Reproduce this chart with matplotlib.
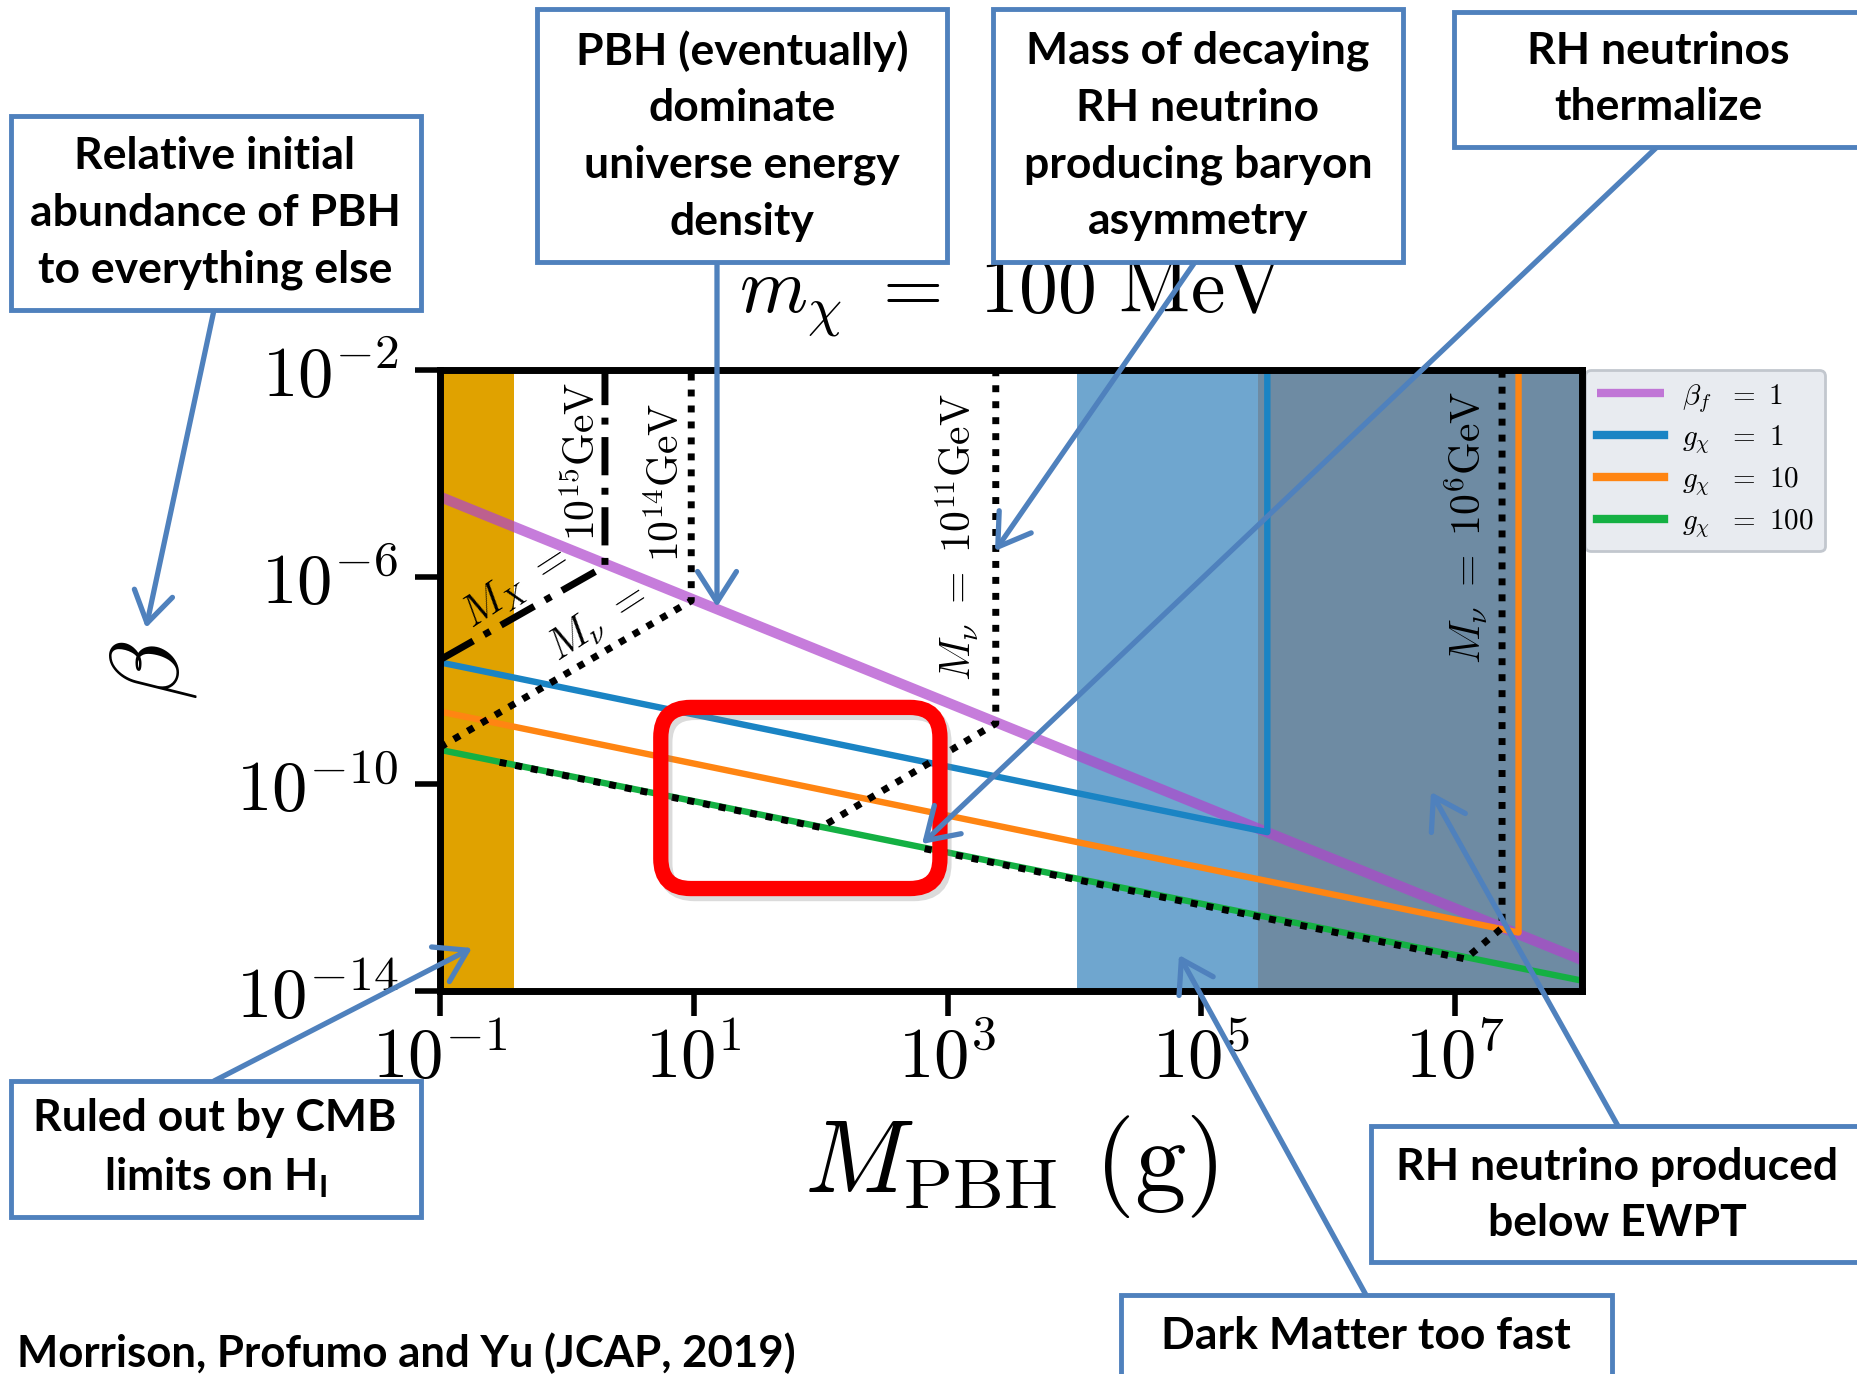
import numpy as np
import matplotlib
matplotlib.use('Agg')
import matplotlib.pyplot as plt
from matplotlib.patches import Rectangle, FancyBboxPatch, FancyArrowPatch
from matplotlib.transforms import IdentityTransform

plt.rcParams['mathtext.fontset'] = 'cm'
plt.rcParams['font.family'] = ['DejaVu Serif']
plt.rcParams['mathtext.bf'] = 'Lato:bold'

# ---------------- data (log10 values) ----------------
purple_logM = [-1, 8]
purple_logB = [-4.45, -13.4]
blue_logM = [-1, 5.52, 5.52]
blue_logB = [-7.65, -10.93, -2]
orange_logM = [-1, 7.5, 7.5]
orange_logB = [-8.6, -12.87, -2]
green_logM = [-1, 8]
green_logB = [-9.34, -13.8]

mx15_logM = [-1, 0.3, 0.3]
mx15_logB = [-7.6, -5.79, -2]
mnu14_logM = [-1, 0.98, 0.98]
mnu14_logB = [-9.29, -6.46, -2]
mnu11_logM = [-0.53, 2.0, 3.38, 3.38]
mnu11_logB = [-9.58, -10.84, -8.83, -2]
mnu6_logM = [2.82, 7.08, 7.37, 7.37]
mnu6_logB = [-11.25, -13.38, -12.78, -2]

cmb_band = [-1, -0.42]
dm_band = [4.02, 5.45]
ewpt_band = [5.45, 8]

legend_labels = [r'$\beta_f\ \ =\ 1$', r'$g_\chi\ \ =\ 1$', r'$g_\chi\ \ =\ 10$', r'$g_\chi\ \ =\ 100$']
xtick_exp = [-1, 1, 3, 5, 7]
ytick_exp = [-2, -6, -10, -14]
xlim_exp = [-1, 8]
ylim_exp = [-14, -2]

red_box_logM = [0.74, 2.94]
red_box_logB = [-8.52, -12.02]

def p(v):
    return 10.0 ** np.asarray(v, dtype=float)

# ---------------- figure ----------------
W, H = 1858, 1374
fig = plt.figure(figsize=(W / 100, H / 100), dpi=100)
fig.patch.set_facecolor('white')
ax = fig.add_axes([440 / W, 1 - 991 / H, 1142 / W, 621 / H])
ax.set_xscale('log')
ax.set_yscale('log')
ax.set_xlim(p(xlim_exp[0]), p(xlim_exp[1]))
ax.set_ylim(p(ylim_exp[0]), p(ylim_exp[1]))

ax.axvspan(p(cmb_band[0]), p(cmb_band[1]), color='#E0A200', lw=0, zorder=1)
ax.axvspan(p(dm_band[0]), p(dm_band[1]), color='#6FA6CF', lw=0, zorder=1)
ax.axvspan(p(ewpt_band[0]), p(ewpt_band[1]), color='#6E8BA3', lw=0, zorder=1)

l1, = ax.plot(p(purple_logM), p(purple_logB), color='#AF44CC', alpha=0.7, lw=7.5,
              solid_capstyle='butt', zorder=3)
l2, = ax.plot(p(blue_logM), p(blue_logB), color='#1A84C4', lw=4.6, zorder=3)
l3, = ax.plot(p(orange_logM), p(orange_logB), color='#FF8512', lw=4.6, zorder=3)
l4, = ax.plot(p(green_logM), p(green_logB), color='#14B043', lw=4.6, zorder=3)

ax.plot(p(mx15_logM), p(mx15_logB), color='black', lw=5, ls=(0, (5.5, 1.8, 1, 1.8)), zorder=4)
for xs, ys in [(mnu14_logM, mnu14_logB), (mnu11_logM, mnu11_logB), (mnu6_logM, mnu6_logB)]:
    ax.plot(p(xs), p(ys), color='black', lw=5, ls=(0, (1, 1.3)), zorder=4)

# in-plot labels
lab_kw = dict(transform=ax.transAxes, fontsize=30, ha='center', va='center', zorder=5)
ax.text(0.125, 0.852, r'$10^{15}\mathrm{GeV}$', rotation=90, **lab_kw)
ax.text(0.199, 0.818, r'$10^{14}\mathrm{GeV}$', rotation=90, **lab_kw)
ax.text(0.066, 0.650, r'$M_X\ =$', rotation=33, **lab_kw)
ax.text(0.138, 0.593, r'$M_\nu\ =$', rotation=33, **lab_kw)
ax.text(0.453, 0.731, r'$M_\nu\ =\ 10^{11}\mathrm{GeV}$', rotation=90, **lab_kw)
ax.text(0.899, 0.747, r'$M_\nu\ =\ 10^{6}\mathrm{GeV}$', rotation=90, **lab_kw)

# axes style
for s in ax.spines.values():
    s.set_linewidth(5)
    s.set_color('black')
    s.set_zorder(6)
ax.set_xticks(p(xtick_exp))
ax.set_xticklabels([r'$10^{%d}$' % e for e in xtick_exp])
ax.set_yticks(p(ytick_exp))
ax.set_yticklabels([r'$10^{%d}$' % e for e in ytick_exp])
ax.minorticks_off()
ax.tick_params(axis='both', which='major', direction='out', length=18, width=4,
               labelsize=51)
ax.tick_params(axis='x', pad=6)
ax.tick_params(axis='y', pad=12)

ax.set_xlabel(r'$M_{\rm PBH}\ (\rm g)$', fontsize=74, va='center', ha='center')
ax.xaxis.set_label_coords(0.5, -0.283)
ax.set_ylabel(r'$\beta$', fontsize=70, va='center', ha='center')
ax.yaxis.set_label_coords(-0.252, 0.517)
ax.text(0.5, 1.115, r'$m_\chi\ =\ 100\ \mathrm{MeV}$', transform=ax.transAxes,
        fontsize=56, ha='center', va='center')

leg = ax.legend([l1, l2, l3, l4], legend_labels, loc='upper left',
                bbox_to_anchor=(1.003, 1.0), borderaxespad=0, fontsize=21,
                handlelength=2.3, handletextpad=0.6, labelspacing=0.3,
                borderpad=0.4, frameon=True, fancybox=True, framealpha=1)
leg.get_frame().set_facecolor('#E8EBF0')
leg.get_frame().set_edgecolor('#C2C7CE')
leg.get_frame().set_linewidth(2)
for i, h in enumerate(leg.get_lines()):
    h.set_linewidth(6)
    h.set_alpha(0.7 if i == 0 else 1)

# ---------------- red highlight box ----------------
fig.canvas.draw()
(x0, y0) = ax.transData.transform((p(red_box_logM[0]), p(red_box_logB[1])))
(x1, y1) = ax.transData.transform((p(red_box_logM[1]), p(red_box_logB[0])))
shadow = FancyBboxPatch((x0 + 4, y0 - 5), x1 - x0, y1 - y0,
                        boxstyle='round,pad=0,rounding_size=30',
                        fc='none', ec='#888888', lw=11, alpha=0.3,
                        transform=IdentityTransform(), zorder=8)
red = FancyBboxPatch((x0, y0), x1 - x0, y1 - y0,
                     boxstyle='round,pad=0,rounding_size=30',
                     fc='none', ec='#FF0000', lw=11,
                     transform=IdentityTransform(), zorder=9)
fig.add_artist(shadow)
fig.add_artist(red)

# ---------------- callouts ----------------
BLUE = '#4F81BD'
boxes = [
    ((11, 116, 421, 310), (215, 213), 'Relative initial\nabundance of PBH\nto everything else'),
    ((537, 9, 947, 262), (742, 136), 'PBH (eventually)\ndominate\nuniverse energy\ndensity'),
    ((993, 9, 1403, 262), (1198, 136), 'Mass of decaying\nRH neutrino\nproducing baryon\nasymmetry'),
    ((1454, 12, 1880, 147), (1658, 79), 'RH neutrinos\nthermalize'),
    ((11, 1081, 421, 1217), (215, 1149), 'Ruled out by CMB\nlimits on H$_\\mathbf{I}$'),
    ((1371, 1126, 1880, 1262), (1617, 1195), 'RH neutrino produced\nbelow EWPT'),
    ((1121, 1295, 1612, 1400), (1366, 1336), 'Dark Matter too fast'),
]
arrows = [
    ((214, 310), (146, 628)),
    ((717, 262), (717, 607)),
    ((1195, 262), (995, 551)),
    ((1657, 147), (922, 844)),
    ((214, 1081), (472, 948)),
    ((1618, 1126), (1431, 792)),
    ((1366, 1295), (1179, 955)),
]
for (a, b) in arrows:
    arr = FancyArrowPatch((a[0], H - a[1]), (b[0], H - b[1]),
                          arrowstyle='->,head_length=0.55,head_width=0.35',
                          mutation_scale=40, lw=3.8, color=BLUE,
                          shrinkA=0, shrinkB=0, transform=IdentityTransform(), zorder=10)
    fig.add_artist(arr)
for (bx, (tx, ty), txt) in boxes:
    rect = Rectangle((bx[0], H - bx[3]), bx[2] - bx[0], bx[3] - bx[1],
                     fc='white', ec=BLUE, lw=3.5, transform=IdentityTransform(), zorder=11)
    fig.add_artist(rect)
    fig.text(tx / W, 1 - ty / H, txt, family='Lato', weight='bold', fontsize=32,
             ha='center', va='center', linespacing=1.5, zorder=12,
             math_fontfamily='custom')

fig.text(17 / W, 1 - 1353 / H, 'Morrison, Profumo and Yu (JCAP, 2019)', family='Lato',
         weight='bold', fontsize=31.5, ha='left', va='center')

fig.savefig('out.png', dpi=100, facecolor='white')
